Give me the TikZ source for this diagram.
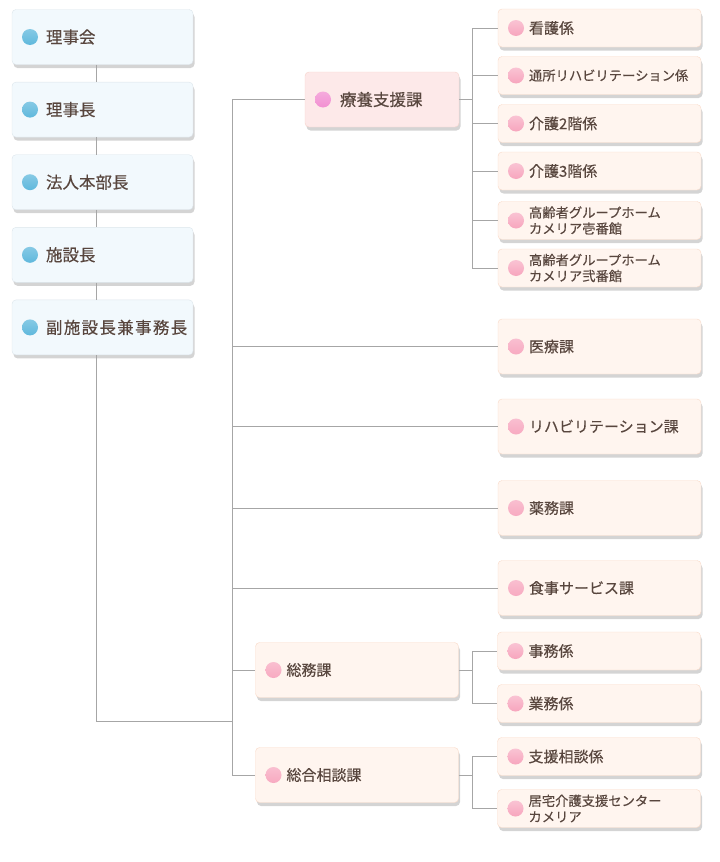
\documentclass[tikz,border=0pt]{standalone}
\usepackage{fontspec}
\setmainfont{Noto Sans CJK JP}[FakeBold=0.35]
\usetikzlibrary{shadows}

\definecolor{txtbrown}{HTML}{58463E}
\definecolor{linegray}{HTML}{A6A6A6}
\definecolor{bluefill}{HTML}{F2F9FD}
\definecolor{blueline}{HTML}{DCE5EB}
\definecolor{peachfill}{HTML}{FFF5EF}
\definecolor{peachline}{HTML}{F9D9C7}
\definecolor{rosefill}{HTML}{FDE9E9}
\definecolor{roseline}{HTML}{F6D2CA}
\definecolor{dotblue}{HTML}{2FA3D2}
\definecolor{dotpink}{HTML}{F590AE}
\definecolor{dotmagenta}{HTML}{EE6EC4}

\tikzset{
  conn/.style={draw=linegray,line width=1pt},
  bullet/.style={path picture={\shade[top color=#1!35!white,middle color=#1!80!white,bottom color=#1] ([xshift=18pt]path picture bounding box.west) circle (8pt);}},
  box/.style={rounded corners=4pt,text=txtbrown,align=left,inner ysep=0pt,
    drop shadow={shadow xshift=1.5pt,shadow yshift=-3.5pt,opacity=0.17,fill=black}},
  lbox/.style={box,draw=blueline,fill=bluefill,bullet=dotblue,inner xsep=34pt,text width=113pt,minimum height=55pt,font=\fontsize{16.5}{19}\selectfont},
  kabox/.style={box,draw=peachline,fill=peachfill,bullet=dotpink,inner xsep=31pt,text width=141pt,minimum height=55pt,font=\fontsize{15}{17}\selectfont},
  kakari/.style={box,draw=peachline,fill=peachfill,bullet=dotpink,inner xsep=31pt,text width=141pt,minimum height=38pt,font=\fontsize{15}{17}\selectfont},
  small/.style={font=\fontsize{13.3}{16}\selectfont}
}

\begin{document}
\begin{tikzpicture}[x=1pt,y=-1pt]
  \useasboundingbox (0,0) rectangle (720,862);
  % columna izquierda
  \foreach \name/\txt [count=\i from 0] in {rijikai/理事会,rijicho/理事長,hojin/法人本部長,shisetsu/施設長,fuku/{\addfontfeature{LetterSpace=8}副施設長兼事務長}}
    \node[lbox] (\name) at (102.5,37+72.6*\i) {\txt};
  % 療養支援課 y sus係
  \node[box,draw=roseline,fill=rosefill,bullet=dotmagenta,inner xsep=35pt,text width=84pt,minimum height=55pt,font=\fontsize{16.5}{19}\selectfont] (ryoyo) at (382,99.5) {療養支援課};
  \node[kakari] (kango) at (599.5,28) {看護係};
  \node[kakari,small] (tsusho) at (599.5,75.5) {通所リハビリテーション係};
  \node[kakari] (kaigo2) at (599.5,123.5) {介護2階係};
  \node[kakari] (kaigo3) at (599.5,171) {介護3階係};
  \node[kakari,small] (ichi) at (599.5,220.5) {高齢者グループホーム\\カメリア壱番館};
  \node[kakari,small] (ni) at (599.5,268) {高齢者グループホーム\\カメリア弐番館};
  % 課
  \node[kabox] (iryo) at (599.5,346.5) {医療課};
  \node[kabox] (riha) at (599.5,426.5) {リハビリテーション課};
  \node[kabox] (yakumu) at (599.5,508) {薬務課};
  \node[kabox] (shokuji) at (599.5,588) {食事サービス課};
  \node[kabox] (somu) at (357,670) {総務課};
  \node[kabox] (sodan) at (357,775) {総合相談課};
  \node[kakari] (jimu) at (599,651) {事務係};
  \node[kakari] (gyomu) at (599,703.5) {業務係};
  \node[kakari] (shien) at (599,756.5) {支援相談係};
  \node[kakari,small] (kyotaku) at (599,808.5) {居宅介護支援センター\\カメリア};
  % lineas
  \coordinate (bend) at (96,721);
  \coordinate (trunk) at (232,0);
  \coordinate (sub) at (472,0);
  \foreach \a/\b in {rijikai/rijicho,rijicho/hojin,hojin/shisetsu,shisetsu/fuku} \draw[conn] (bend |- \a.south) -- (bend |- \b.north);
  \draw[conn] (bend |- fuku.south) -- (bend) -- (bend -| trunk);
  \draw[conn] (trunk |- ryoyo.west) -- (trunk |- sodan.west);
  \foreach \n in {ryoyo,iryo,riha,yakumu,shokuji,somu,sodan} \draw[conn] (trunk |- \n.west) -- (\n.west);
  % ramas de 係
  \foreach \p/\f/\l in {ryoyo/kango/ni,somu/jimu/gyomu,sodan/shien/kyotaku} {
    \draw[conn] (\p.east) -- (sub |- \p.east);
    \draw[conn] (sub |- \f.west) -- (sub |- \l.west);
  }
  \foreach \n in {kango,tsusho,kaigo2,kaigo3,ichi,ni,jimu,gyomu,shien,kyotaku} \draw[conn] (sub |- \n.west) -- (\n.west);
\end{tikzpicture}
\end{document}
